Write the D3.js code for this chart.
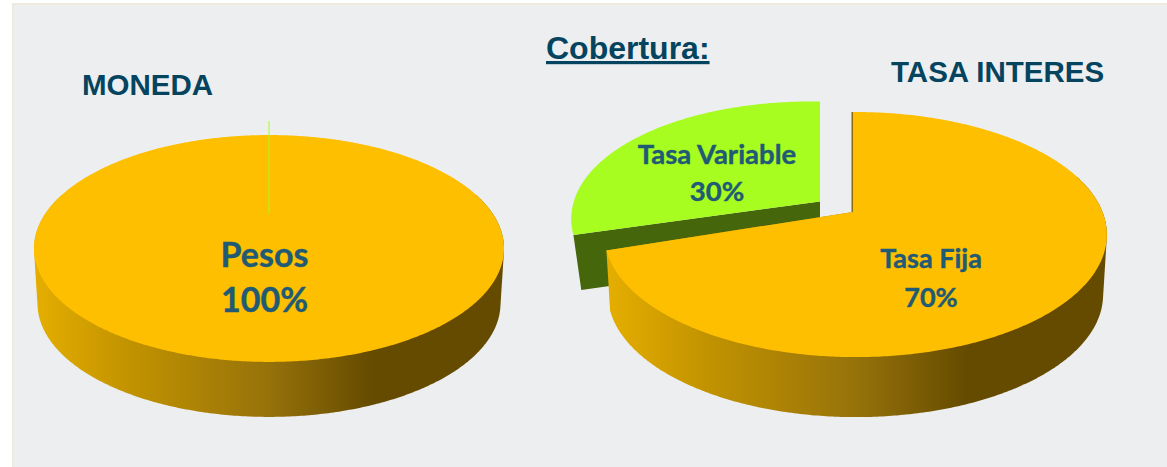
<!DOCTYPE html>
<html><head><meta charset="utf-8">
<script src="https://cdn.jsdelivr.net/npm/d3@7"></script>
<style>html,body{margin:0;padding:0;background:#fff}svg{display:block}</style>
</head><body><svg id="c" width="1167" height="467"></svg>
<script>
const monedaLabels = ["Pesos", "Otra"];
const monedaValues = [100, 0];
const tasaLabels = ["Tasa Fija", "Tasa Variable"];
const tasaValues = [70, 30];
const colors = {orange:"#fdbf00", green:"#a6fd1f", greenSide:"#46660c", bg:"#edeef0", label:"#215a75", title:"#05445e"};

const svg = d3.select("#c");
const W = 1167, H = 467;
const defs = svg.append("defs");
const grad = defs.append("linearGradient").attr("id","side").attr("x1",0).attr("x2",1).attr("y1",0).attr("y2",0);
[[0,"#e5ae00"],[0.2,"#c29300"],[0.5,"#96720a"],[0.72,"#654b00"],[1,"#654b00"]].forEach(s=>grad.append("stop").attr("offset",s[0]).attr("stop-color",s[1]));

svg.append("rect").attr("x",13).attr("y",4).attr("width",W).attr("height",H).attr("fill",colors.bg).attr("stroke","#eeeadd").attr("stroke-width",2);

const line = d3.line();
const K = -0.184;
function projector(g){ // perspective projection of the tilted pie plane
  const sx = d3.scaleLinear().domain([-1,1]).range([g.cx-g.B,g.cx+g.B]);
  const sy = d3.scaleLinear().domain([-1,1]).range([g.cy-g.A,g.cy+g.A]);
  return function(a,r=1){
    const x=Math.sin(a)*r, y=-Math.cos(a)*r, w=1+K*y+g.L*x;
    return [sx(x/w), sy(y/w)];
  };
}
function arcPts(p,a0,a1){
  const n=Math.max(2,Math.ceil(Math.abs(a1-a0)/0.01));
  return d3.range(n+1).map(i=>p(a0+(a1-a0)*i/n));
}
function lower(pts,c,scale,depth){ return pts.map(q=>[c+(q[0]-c)*scale, q[1]+depth]); }

const pie = d3.pie().sort(null).startAngle(0).endAngle(2*Math.PI);

function drawPie(g, values, labels){
  const p = projector(g);
  const arcs = pie(values);
  const main = arcs[0], other = arcs[1];
  const ox = other.endAngle-other.startAngle;
  const off = g.off;
  const shear = g.shear||0;
  const pOff = (a,r=1)=>{const q=p(a,r);return [q[0]+off[0],q[1]+off[1]+(q[0]-g.cx)*shear];};

  if(ox>0){
    // exploded slice: front wall then top
    const apex=pOff(0,0), corner=pOff(other.startAngle);
    const wall=[apex,corner,...lower([corner,apex],apex[0],g.offScale,g.offDepth)];
    svg.append("path").attr("d",line(wall)+"Z").attr("fill",colors.greenSide);
    const top=[apex,...arcPts(pOff,other.startAngle,other.endAngle)];
    svg.append("path").attr("d",line(top)+"Z").attr("fill",colors.green);
    // thin back wall of the main slice along the top cut
    const a=p(0,0), b=p(0);
    svg.append("path").attr("d",line([[a[0]-1.5,a[1]],[b[0]-1.5,b[1]],b,a])+"Z").attr("fill","#8a6a10");
  }
  // side of main slice: hull of the visible rim and its lower copy
  const visStart=Math.PI*0.4, visEnd=Math.min(main.endAngle,Math.PI*1.6);
  const upper=arcPts(p,visStart,visEnd);
  const hull=d3.polygonHull([...upper,...lower(upper,g.cx,g.sideScale,g.depth)]);
  svg.append("path").attr("d",line(hull)+"Z").attr("fill","url(#side)");
  // top of main slice
  const full=main.endAngle-main.startAngle>=2*Math.PI-1e-6;
  const topPts=full?arcPts(p,0,2*Math.PI):[p(0,0),...arcPts(p,main.startAngle,main.endAngle)];
  svg.append("path").attr("d",line(topPts)+"Z").attr("fill",colors.orange);
  if(ox===0){
    // zero-size slice appears as a hairline
    const a=pOff(0,0), b=pOff(0);
    svg.append("path").attr("d",line([a,b])).attr("stroke",colors.green).attr("stroke-width",1.3).attr("fill","none").attr("opacity",.75);
  }
  // labels
  g.labels.forEach(l=>{
    const t=svg.append("text").attr("text-anchor","middle").attr("fill",colors.label)
      .attr("stroke",colors.label).attr("stroke-width",0.4)
      .attr("font-family","Lato, 'Open Sans', sans-serif").attr("font-weight",700).attr("font-size",l.size);
    t.append("tspan").attr("x",l.x).attr("y",l.y).text(labels[l.i]);
    t.append("tspan").attr("x",l.x).attr("y",l.y+l.dy).text(values[l.i]+"%");
  });
}

drawPie({cx:269,cy:227.6,A:109.6,B:231,L:0,off:[0,-14],depth:55,sideScale:0.985,
  labels:[{i:0,x:264.5,y:267,dy:45,size:34}]}, monedaValues, monedaLabels);
drawPie({cx:853,cy:212,A:118.4,B:247,L:-0.01,off:[-33,-10.5],shear:0.02,offScale:0.968,offDepth:55,depth:60,sideScale:0.985,
  labels:[{i:0,x:931,y:268,dy:39,size:27},{i:1,x:717,y:164,dy:37,size:27.5}]}, tasaValues, tasaLabels);

function title(txt,x,y,size,color,ul){
  svg.append("text").attr("x",x).attr("y",y).attr("font-family","'Liberation Sans',Arial,sans-serif").attr("font-weight",700)
    .attr("font-size",size).attr("fill",color).attr("text-decoration",ul?"underline":null).text(txt);
}
title("MONEDA",82,95,29.5,colors.title);
title("TASA INTERES",891,81.5,29.5,colors.title);
title("Cobertura:",546,59,32,colors.title,true);
</script></body></html>
